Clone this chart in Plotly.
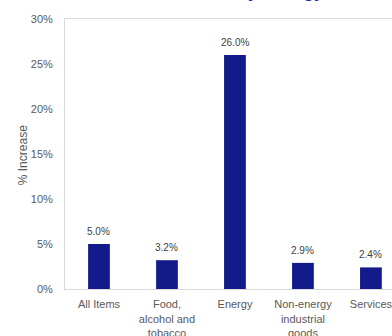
import plotly.graph_objects as go

categories = ["All Items", "Food,<br>alcohol and<br>tobacco", "Energy",
              "Non-energy<br>industrial<br>goods", "Services"]
values = [5.0, 3.2, 26.0, 2.9, 2.4]
value_labels = ["5.0%", "3.2%", "26.0%", "2.9%", "2.4%"]
y_ticks = [0, 5, 10, 15, 20, 25, 30]
y_tick_labels = ["0%", "5%", "10%", "15%", "20%", "25%", "30%"]
title_text = "Euro area inflation driven by Energy"
y_title = "% Increase"

FONT = "Liberation Sans, Arial, sans-serif"
BAR = "#131b8b"
GREY = "#595959"

fig = go.Figure()
fig.add_trace(go.Bar(x=list(range(len(categories))), y=values,
                     marker=dict(color=BAR, line=dict(width=0)),
                     hoverinfo="skip"))

for i, (v, t) in enumerate(zip(values, value_labels)):
    fig.add_annotation(x=i, y=v, text=t, showarrow=False, yanchor="bottom",
                       yshift=5, font=dict(family=FONT, size=10, color="#404040"))

fig.add_annotation(xref="paper", yref="paper", x=0.798, y=1, xanchor="right",
                   yanchor="bottom", yshift=16, text="<b>" + title_text + "</b>",
                   showarrow=False, font=dict(family=FONT, size=18, color="#1f2a9c"))

fig.add_annotation(xref="paper", yref="paper", x=-0.128, y=0.496,
                   xanchor="center", yanchor="middle", textangle=-90,
                   text=y_title, showarrow=False,
                   font=dict(family=FONT, size=12, color=GREY))

fig.update_layout(
    width=392, height=336,
    margin=dict(l=64.5, r=0, t=19, b=47, autoexpand=False),
    paper_bgcolor="white", plot_bgcolor="white",
    showlegend=False, bargap=0.68,
    font=dict(family=FONT, size=11, color=GREY),
)
fig.update_xaxes(range=[-0.5, 4.31], tickvals=list(range(len(categories))),
                 ticktext=categories, showgrid=False, zeroline=False,
                 showline=True, mirror=True, linecolor="#d9d9d9", linewidth=1,
                 tickfont=dict(family=FONT, size=11, color=GREY), ticks="",
                 ticklabeloverflow="allow", ticklabelstandoff=5,
                 automargin=False)
fig.update_yaxes(range=[0, 30], tickvals=y_ticks, ticktext=y_tick_labels,
                 showgrid=False, zeroline=False, showline=True, mirror=True,
                 linecolor="#d9d9d9", linewidth=1, ticks="",
                 ticklabelstandoff=9, automargin=False,
                 tickfont=dict(family=FONT, size=11, color=GREY))

fig.write_html("out.html")
